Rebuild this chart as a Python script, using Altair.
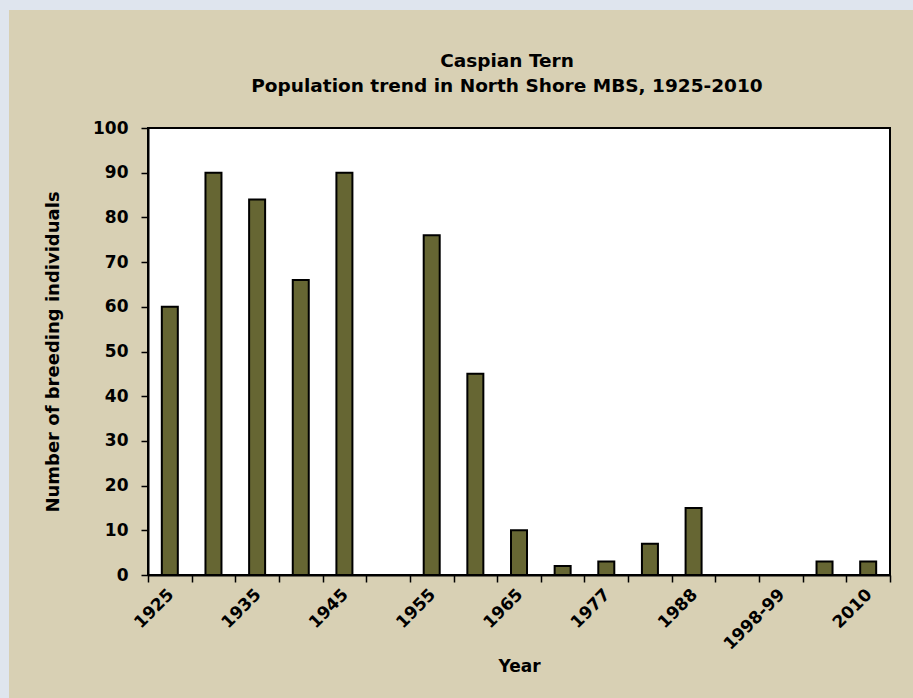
import altair as alt
import pandas as pd

years = ["1925", "1930", "1935", "1940", "1945", "1950", "1955", "1960", "1965",
         "1970", "1977", "1983", "1988", "1993", "1998-99", "2004", "2010"]
counts = [60, 90, 84, 66, 90, 0, 76, 45, 10, 2, 3, 7, 15, 0, 0, 3, 3]
shown_labels = ["1925", "1935", "1945", "1955", "1965", "1977", "1988", "1998-99", "2010"]
y_ticks = [0, 10, 20, 30, 40, 50, 60, 70, 80, 90, 100]
title_lines = ["Caspian Tern", "Population  trend in North Shore MBS, 1925-2010"]

df = pd.DataFrame({"Year": years, "Count": counts})
dummy = pd.DataFrame({"a": [0]})

W, H = 742, 447
PL, PT, PR, PB = 148, 128, 23, 123
FONT = "DejaVu Sans"
BEIGE = "#d8d0b4"
BLUE = "#dfe5ee"
OLIVE = "#666633"

label_expr = "indexof(" + str(shown_labels).replace("'", '"') + ", datum.label) >= 0 ? datum.label : ''"

panel = alt.Chart(dummy).mark_rect(color=BEIGE).encode(
    x=alt.value(9 - PL), x2=alt.value(W + PR), y=alt.value(10 - PT), y2=alt.value(H + PB)
)
plot_bg = alt.Chart(dummy).mark_rect(fill="white", stroke="black", strokeWidth=2).encode(
    x=alt.value(0), x2=alt.value(W), y=alt.value(0), y2=alt.value(H)
)
title1 = alt.Chart(dummy).mark_text(
    text=title_lines[0], font=FONT, fontSize=18.5, fontWeight="bold", color="black",
    align="center", baseline="middle"
).encode(x=alt.value(359), y=alt.value(-67))
title2 = alt.Chart(dummy).mark_text(
    text=title_lines[1], font=FONT, fontSize=18.5, fontWeight="bold", color="black",
    align="center", baseline="middle"
).encode(x=alt.value(359), y=alt.value(-42))

bars = alt.Chart(df).mark_bar(size=16, color=OLIVE, stroke="black", strokeWidth=2).encode(
    x=alt.X("Year:N", sort=years,
            scale=alt.Scale(domain=years, paddingInner=0, paddingOuter=0),
            axis=alt.Axis(title="Year", labelAngle=-45, labelExpr=label_expr, grid=False,
                          tickBand="extent", tickSize=7, tickWidth=1.5, tickColor="black",
                          domainColor="black", domainWidth=2,
                          labelFont=FONT, labelFontSize=17, labelFontWeight="bold",
                          labelColor="black", labelPadding=4, labelAlign="right",
                          labelBaseline="top", labelOffset=-5,
                          titleFont=FONT, titleFontSize=17, titleFontWeight="bold",
                          titleColor="black", titlePadding=6, zindex=1)),
    y=alt.Y("Count:Q", scale=alt.Scale(domain=[0, 100], nice=False),
            axis=alt.Axis(title="Number of breeding individuals", values=y_ticks, grid=False,
                          tickSize=7, tickWidth=1.5, tickColor="black",
                          domainColor="black", domainWidth=2,
                          labelFont=FONT, labelFontSize=17, labelFontWeight="bold",
                          labelColor="black", labelPadding=13,
                          titleFont=FONT, titleFontSize=18, titleFontWeight="bold",
                          titleColor="black", titlePadding=30, zindex=1)),
)

chart = alt.layer(panel, plot_bg, title1, title2, bars).properties(
    width=W, height=H,
    autosize=alt.AutoSizeParams(type="none"),
    padding={"left": PL, "top": PT, "right": PR, "bottom": PB},
    background=BLUE,
).configure_view(stroke=None, fill=None)

chart.save("out.html", embed_options={"renderer": "svg", "actions": False})
